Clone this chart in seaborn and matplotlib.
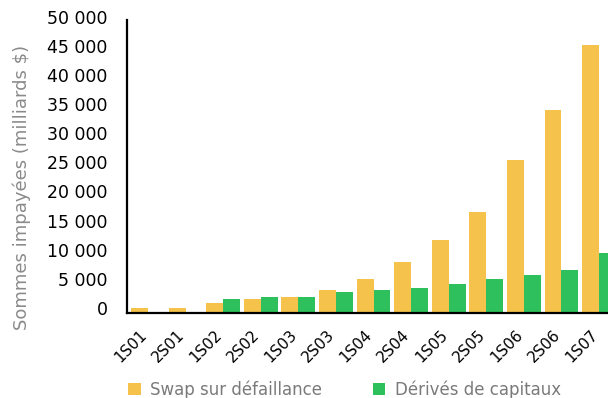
import matplotlib
matplotlib.use("Agg")
import matplotlib.pyplot as plt
import matplotlib.transforms as mtransforms
import seaborn as sns
import pandas as pd

# semestres
periodes = ["1S01", "2S01", "1S02", "2S02", "1S03", "2S03", "1S04",
            "2S04", "1S05", "2S05", "1S06", "2S06", "1S07"]
# en milliards de $
swap_defaillance = [900, 920, 1650, 2400, 2750, 3900, 5800,
                    8700, 12500, 17300, 26300, 34900, 46000]
derives_capitaux = [0, 0, 2400, 2750, 2750, 3550, 3900,
                    4300, 5000, 5800, 6500, 7300, 10300]
series = ["Swap sur défaillance", "Dérivés de capitaux"]
yticks = [0, 5000, 10000, 15000, 20000, 25000, 30000, 35000, 40000, 45000, 50000]

df = pd.DataFrame({
    "Periode": periodes * 2,
    "Serie": [series[0]] * len(periodes) + [series[1]] * len(periodes),
    "Valeur": swap_defaillance + derives_capitaux,
})

sns.set_style("white")
plt.rcParams['font.family'] = ['DejaVu Sans']

fig = plt.figure(figsize=(6.08, 3.98), dpi=100)
# axes wider than figure: last bar is cut on the right, like the original
ax = fig.add_axes([127 / 608, 85 / 398, 489 / 608, 293 / 398])

sns.barplot(data=df, x="Periode", y="Valeur", hue="Serie",
            palette=["#F5C34C", "#2DC05C"], width=0.9, gap=0,
            saturation=1, linewidth=0, ax=ax)

ax.set_xlim(-0.56, 12.45)
ax.set_ylim(0, 50300)
ax.set_yticks(yticks)
ax.set_yticklabels([f"{v:,}".replace(",", " ") for v in yticks])
ax.tick_params(axis='y', length=0, pad=14, labelsize=12.5, labelcolor='black')
ax.tick_params(axis='x', length=0, pad=5, labelsize=11, labelcolor='black')
offx = mtransforms.ScaledTranslation(-9 / 100, -7 / 100, fig.dpi_scale_trans)
for lab in ax.get_xticklabels():
    lab.set_rotation(45)
    lab.set_ha('right')
    lab.set_rotation_mode('anchor')
    lab.set_transform(lab.get_transform() + offx)
# labels sit a bit above their gridline in the source picture
off = mtransforms.ScaledTranslation(0, 5 / 100, fig.dpi_scale_trans)
for lab in ax.get_yticklabels():
    lab.set_transform(lab.get_transform() + off)

for s in ['top', 'right']:
    ax.spines[s].set_visible(False)
for s in ['left', 'bottom']:
    ax.spines[s].set_color('black')
    ax.spines[s].set_linewidth(1.6)

ax.set_xlabel("")
ax.set_ylabel("Sommes impayées (milliards $)", fontsize=13, color='#8a8a8a')
ax.yaxis.set_label_coords(-96 / 489, 0.43)

sns.move_legend(ax, "lower left", bbox_to_anchor=(113 / 608, -16 / 398),
                bbox_transform=fig.transFigure, ncol=2, frameon=False, title=None,
                handlelength=0.75, handleheight=0.75, handletextpad=0.6,
                columnspacing=3.0, fontsize=12)
for t in ax.get_legend().get_texts():
    t.set_color('#7a7a7a')

fig.savefig("out.png", dpi=100)
